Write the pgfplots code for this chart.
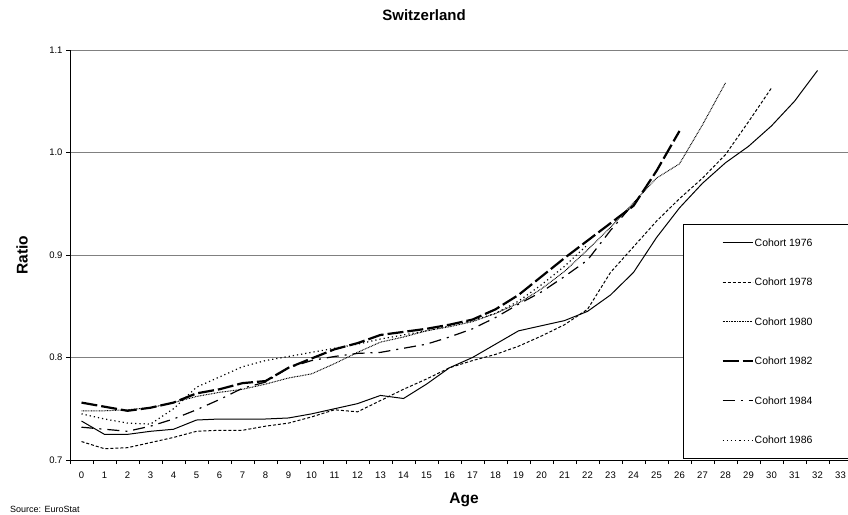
\documentclass[border=0pt]{standalone}
\usepackage{fontspec}
\setmainfont{Liberation Sans}
\usepackage{pgfplots}
\usepackage{pgfplotstable}
\pgfplotsset{compat=1.18}
\pgfplotstableread{
age c1976
0 0.738
1 0.725
2 0.725
3 0.728
4 0.730
5 0.739
6 0.740
7 0.740
8 0.740
9 0.741
10 0.745
11 0.750
12 0.755
13 0.763
14 0.760
15 0.774
16 0.790
17 0.800
18 0.813
19 0.826
20 0.831
21 0.836
22 0.845
23 0.861
24 0.883
25 0.917
26 0.946
27 0.970
28 0.990
29 1.006
30 1.026
31 1.050
32 1.080
}\tA
\pgfplotstableread{
age c1978
0 0.718
1 0.711
2 0.712
3 0.717
4 0.722
5 0.728
6 0.729
7 0.729
8 0.733
9 0.736
10 0.742
11 0.749
12 0.747
13 0.758
14 0.769
15 0.779
16 0.790
17 0.797
18 0.803
19 0.811
20 0.821
21 0.832
22 0.847
23 0.883
24 0.908
25 0.933
26 0.955
27 0.975
28 0.998
29 1.030
30 1.063
}\tB
\pgfplotstableread{
age c1980
0 0.748
1 0.748
2 0.749
3 0.751
4 0.756
5 0.762
6 0.766
7 0.769
8 0.774
9 0.780
10 0.784
11 0.794
12 0.805
13 0.815
14 0.820
15 0.826
16 0.830
17 0.835
18 0.843
19 0.853
20 0.867
21 0.884
22 0.905
23 0.927
24 0.951
25 0.975
26 0.989
27 1.027
28 1.068
}\tC
\pgfplotstableread{
age c1982
0 0.756
1 0.752
2 0.748
3 0.751
4 0.756
5 0.765
6 0.769
7 0.775
8 0.777
9 0.790
10 0.799
11 0.808
12 0.814
13 0.822
14 0.825
15 0.828
16 0.832
17 0.837
18 0.847
19 0.861
20 0.879
21 0.897
22 0.914
23 0.931
24 0.948
25 0.982
26 1.021
}\tD
\pgfplotstableread{
age c1984
0 0.732
1 0.730
2 0.728
3 0.733
4 0.740
5 0.749
6 0.759
7 0.770
8 0.776
9 0.790
10 0.797
11 0.801
12 0.804
13 0.805
14 0.809
15 0.813
16 0.820
17 0.828
18 0.839
19 0.852
20 0.864
21 0.879
22 0.895
23 0.924
24 0.950
}\tE
\pgfplotstableread{
age c1986
0 0.745
1 0.740
2 0.736
3 0.735
4 0.750
5 0.771
6 0.781
7 0.791
8 0.797
9 0.801
10 0.805
11 0.809
12 0.813
13 0.818
14 0.822
15 0.826
16 0.831
17 0.836
18 0.843
19 0.855
20 0.871
21 0.889
22 0.910
}\tF
\begin{document}
\begin{tikzpicture}
\useasboundingbox (0,0) rectangle (848pt,514pt);
\begin{axis}[
  at={(70pt,54pt)}, anchor=south west,
  scale only axis, width=778pt, height=410pt,
  xmin=-0.5, xmax=33.326, ymin=0.7, ymax=1.1,
  axis x line*=bottom, axis y line*=left,
  axis line style={black, line width=0.8pt, -},
  ytick={0.7,0.8,0.9,1.0,1.1},
  yticklabels={0.7,0.8,0.9,1.0,1.1},
  ymajorgrids, grid style={gray, line width=0.9pt},
  tick align=outside, major tick length=4pt, minor tick length=4pt,
  ytick style={black, line width=0.6pt},
  xtick={0,1,...,33},
  xticklabels={0,1,2,3,4,5,6,7,8,9,10,11,12,13,14,15,16,17,18,19,20,21,22,23,24,25,26,27,28,29,30,31,32,33},
  major x tick style={draw=none},
  minor xtick={-0.5,0.5,...,33.5},
  minor x tick style={black, line width=0.6pt},
  xticklabel style={yshift=-4pt},
  ticklabel style={font=\fontsize{9.5}{11}\selectfont, black},
  no markers,
  legend image code/.code={\draw[#1] (0pt,0pt) -- (30pt,0pt);},
  legend style={at={(rel axis cs:0.788,0.5756)}, anchor=north west,
    draw=black, line width=0.8pt, inner xsep=38pt, inner ysep=13.5pt,
    row sep=30pt, font=\fontsize{10.5}{12}\selectfont,
    nodes={inner sep=1pt, text height=7.5pt, text depth=0pt}},
  legend cell align=left,
]
\addplot[black, line width=1pt] table[x=age, y=c1976] {\tA};
\addlegendentry{Cohort 1976\hspace{40pt}}
\addplot[black, line width=1pt, dash pattern=on 3pt off 2pt] table[x=age, y=c1978] {\tB};
\addlegendentry{Cohort 1978}
\addplot[black, line width=1pt, dash pattern=on 0.8pt off 0.8pt] table[x=age, y=c1980] {\tC};
\addlegendentry{Cohort 1980}
\addplot[black, line width=2.2pt, dash pattern=on 16pt off 4pt] table[x=age, y=c1982] {\tD};
\addlegendentry{Cohort 1982}
\addplot[black, line width=1.2pt, dash pattern=on 12pt off 6pt on 2pt off 6pt] table[x=age, y=c1984] {\tE};
\addlegendentry{Cohort 1984}
\addplot[black, line width=1.2pt, dash pattern=on 1.2pt off 3pt] table[x=age, y=c1986] {\tF};
\addlegendentry{Cohort 1986}
\end{axis}
\node[font=\bfseries\fontsize{15}{17}\selectfont] at (424pt,499pt) {Switzerland};
\node[font=\bfseries\fontsize{15.5}{17}\selectfont, rotate=90] at (22pt,259pt) {Ratio};
\node[font=\bfseries\fontsize{15.5}{17}\selectfont] at (464pt,14pt) {Age};
\node[font=\fontsize{9}{10}\selectfont, anchor=base west, inner sep=0pt] at (10pt,1.5pt) {Source: EuroStat};
\end{tikzpicture}
\end{document}
